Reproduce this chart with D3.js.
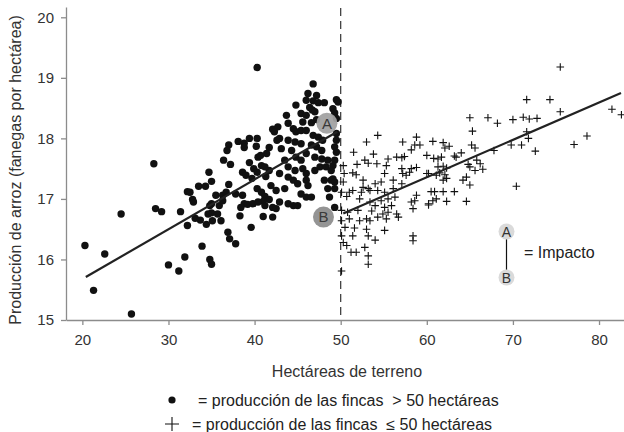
<!DOCTYPE html>
<html>
<head>
<meta charset="utf-8">
<script src="https://cdn.jsdelivr.net/npm/d3@7"></script>
<style>
  body { margin: 0; background: #fff; }
  svg { display: block; font-family: "Liberation Sans", Arial, sans-serif; }
</style>
</head>
<body>
<div id="chart"></div>
<script>
// fincas > 50 hectáreas (puntos)
const bigFarms = [
  [20.3,16.23],[21.3,15.49],[22.6,16.09],[24.5,16.75],[25.7,15.10],[28.3,17.58],[28.5,16.84],[29.2,16.79],
  [30.0,15.91],[31.2,15.81],[31.4,16.79],[31.9,16.04],[32.2,17.12],[32.5,17.11],[32.2,16.56],[32.8,16.99],
  [32.9,16.95],[33.5,17.21],[34.3,17.21],[34.7,17.44],[35.0,17.29],[33.1,16.68],[33.7,16.65],[34.4,16.58],
  [33.9,16.22],[34.8,16.0],[35.0,15.92],[34.8,16.89],[35.0,16.77],[35.1,16.64],
  [40.3,19.17],[42.1,18.15],[42.6,17.97],[38.1,17.95],[38.8,17.92],[39.4,18.0],[40.3,18.0],[37.0,17.89],
  [36.8,17.80],[38.8,17.85],[41.7,17.85],[40.2,17.87],[40.4,17.69],[40.7,17.72],[41.4,17.75],[36.4,17.64],
  [37.2,17.57],[39.4,17.6],[39.9,17.5],[40.3,17.44],[40.8,17.55],[41.3,17.37],[41.7,17.47],[39.7,17.34],
  [38.6,17.44],[39.0,17.39],[41.2,17.53],[37.0,17.24],[35.5,17.06],[36.3,17.06],[36.7,17.11],[37.8,17.08],
  [38.6,17.06],[40.3,17.17],[40.8,17.11],[41.2,17.04],[41.7,16.99],[41.0,16.96],[41.9,17.22],[35.0,16.92],
  [35.9,16.89],[36.3,16.97],[38.8,16.92],[39.2,16.91],[39.8,16.92],[40.4,16.95],[38.4,16.86],[41.2,16.89],
  [42.1,16.86],[34.6,16.75],[35.7,16.75],[36.1,16.64],[38.3,16.72],[41.0,16.71],[42.1,16.70],[39.6,16.53],
  [36.9,16.45],[37.1,16.34],[37.8,16.26],
  [46.8,18.90],[46.2,18.74],[47.2,18.71],[46.0,18.63],[46.8,18.62],[47.4,18.59],[49.5,18.64],[49.7,18.60],
  [48.1,18.59],[44.8,18.55],[46.4,18.51],[45.4,18.41],[46.0,18.38],[46.7,18.47],[47.0,18.44],[49.1,18.49],
  [49.3,18.42],[43.7,18.38],[43.9,18.25],[45.6,18.27],[46.6,18.26],[47.2,18.31],[49.5,18.33],[42.7,18.19],
  [42.3,18.11],[44.5,18.16],[44.8,18.11],[45.4,18.13],[46.0,18.13],[46.8,18.05],[47.4,18.02],[47.9,17.97],
  [49.5,18.08],[49.5,17.97],[42.9,18.0],[43.9,17.97],[44.7,17.94],[45.4,17.91],[43.1,17.83],[44.3,17.80],
  [46.6,17.89],[47.2,17.86],[47.8,17.80],[49.3,17.86],[49.5,17.77],[46.0,17.75],[44.8,17.69],[45.4,17.64],
  [47.0,17.69],[47.8,17.66],[48.5,17.64],[49.3,17.64],[49.1,17.55],[43.5,17.64],[43.9,17.53],[44.7,17.47],
  [45.6,17.50],[46.0,17.42],[47.0,17.47],[47.6,17.53],[48.3,17.53],[48.9,17.47],[42.9,17.42],[43.9,17.36],
  [44.5,17.31],[45.0,17.25],[46.0,17.31],[46.2,17.22],[48.1,17.31],[48.9,17.31],[48.5,17.17],[49.3,17.28],
  [42.5,17.14],[43.5,17.17],[45.4,17.08],[46.0,17.03],[46.6,17.03],[42.9,16.95],[43.9,16.92],[44.5,16.89],
  [45.0,16.89],[48.7,17.03],[49.3,16.86],[42.5,16.84],[49.1,17.33],[49.3,17.17]
]

// fincas <= 50 hectáreas (cruces)
const smallFarms = [
  [54.3,18.05],[53.0,17.94],[57.2,17.94],[58.8,18.02],[58.6,17.89],[59.2,17.89],[58.2,17.81],[60.0,17.72],
  [51.5,17.77],[53.8,17.74],[52.8,17.64],[53.2,17.59],[54.2,17.58],[55.5,17.66],[55.3,17.55],[56.5,17.69],
  [57.1,17.68],[57.4,17.70],[50.3,17.55],[51.9,17.57],[57.1,17.50],[58.2,17.50],[58.8,17.52],[57.2,17.42],
  [57.6,17.39],[58.0,17.44],[50.4,17.42],[51.4,17.43],[51.8,17.40],[55.1,17.42],[60.0,17.42],[50.3,17.28],
  [52.6,17.31],[54.0,17.25],[54.7,17.28],[56.1,17.31],[57.1,17.25],[50.1,17.11],[51.0,17.11],[51.4,17.14],
  [52.4,17.11],[52.6,17.19],[53.2,17.17],[53.4,17.14],[54.3,17.14],[55.1,17.11],[56.1,17.17],[50.7,17.04],
  [52.2,17.0],[53.4,16.95],[54.7,16.97],[55.5,17.0],[56.3,17.03],[58.2,16.95],[58.8,17.06],[58.6,16.97],
  [54.0,16.89],[55.1,16.86],[55.9,16.89],[50.1,16.81],[50.8,16.78],[52.0,16.81],[53.6,16.80],[58.4,16.84],
  [60.2,16.92],[54.9,16.75],[55.5,16.78],[56.5,16.75],[56.7,16.70],[51.0,16.67],[52.2,16.64],[53.0,16.67],
  [53.4,16.64],[50.1,16.64],[50.5,16.53],[54.3,16.70],[55.3,16.67],[51.6,16.52],[53.0,16.50],[55.1,16.48],
  [50.1,16.39],[51.4,16.39],[53.2,16.39],[54.0,16.32],[58.4,16.39],[58.4,16.31],[50.3,16.28],[50.7,16.23],
  [51.2,16.12],[51.8,16.12],[52.8,16.20],[53.2,16.06],[53.2,15.92],[50.1,15.81],
  [65.0,18.34],[67.1,18.34],[68.2,18.25],[70.0,18.31],[71.2,18.35],[65.3,18.12],[60.7,17.95],[61.9,17.93],
  [62.6,17.87],[62.1,17.84],[65.2,17.89],[65.6,17.84],[69.8,17.89],[71.0,17.89],[67.8,17.80],[60.8,17.67],
  [61.3,17.66],[61.7,17.69],[63.2,17.71],[63.4,17.69],[64.0,17.76],[64.8,17.57],[65.0,17.53],[65.8,17.64],
  [66.2,17.58],[66.5,17.49],[65.6,17.47],[61.3,17.53],[61.9,17.54],[62.3,17.51],[60.2,17.42],[61.1,17.39],
  [61.5,17.43],[62.1,17.40],[62.3,17.34],[61.9,17.31],[64.6,17.36],[64.2,17.31],[65.0,17.23],[70.4,17.21],
  [60.5,17.12],[60.9,17.12],[61.9,17.12],[63.2,17.12],[61.1,17.0],[60.7,16.97],[62.3,16.96],[64.6,16.96],
  [60.2,16.90],
  [75.5,19.18],[71.6,18.64],[74.3,18.64],[75.5,18.44],[71.9,18.32],[72.8,18.33],[81.5,18.48],[82.6,18.39],
  [71.6,18.11],[71.8,18.0],[72.6,17.79],[77.1,17.90],[78.6,18.04]
]

const fitBig = [[20.4, 15.71], [49.6, 18.11]]
const fitSmall = [[50.3, 16.76], [82.55, 18.75]]
const impactPoints = [
  { label: 'A', x: 48.4, y: 18.25 },
  { label: 'B', x: 48.0, y: 16.70 }
]
const xTicks = [20, 30, 40, 50, 60, 70, 80]
const yTicks = [15, 16, 17, 18, 19, 20]
const cutoff = 50

let width = 624,
  height = 432

let svg = d3.select('#chart').append('svg')
  .attr('width', width)
  .attr('height', height)

let x = d3.scaleLinear()
  .domain([18.1, 82.9])
  .range([66, 624])

let y = d3.scaleLinear()
  .domain([15, 20.17])
  .range([320, 7])

let axisColor = '#8c8c8c',
  textColor = '#333'

// ejes
svg.append('g')
  .attr('transform', 'translate(0,320)')
  .call(d3.axisBottom(x).tickValues(xTicks).tickFormat(d3.format('d'))
    .tickSize(5).tickPadding(9).tickSizeOuter(0))

svg.append('g')
  .attr('transform', 'translate(66,0)')
  .call(d3.axisLeft(y).tickValues(yTicks).tickFormat(d3.format('d'))
    .tickSize(5).tickPadding(7).tickSizeOuter(0))

svg.selectAll('.domain, .tick line')
  .attr('stroke', axisColor)
  .attr('stroke-width', 1.3)
svg.selectAll('.tick text')
  .attr('fill', textColor)
  .style('font-size', '15px')
  .style('font-family', '"Liberation Sans", Arial, sans-serif')

svg.append('text')
  .attr('transform', 'translate(21,170) rotate(-90)')
  .attr('text-anchor', 'middle')
  .attr('fill', textColor)
  .style('font-size', '16px')
  .text('Producción de arroz (fanegas por hectárea)')

svg.append('text')
  .attr('x', 347)
  .attr('y', 377)
  .attr('text-anchor', 'middle')
  .attr('fill', textColor)
  .style('font-size', '16px')
  .text('Hectáreas de terreno')

// línea de corte
svg.append('line')
  .attr('x1', x(cutoff))
  .attr('x2', x(cutoff))
  .attr('y1', 8)
  .attr('y2', 320)
  .attr('stroke', '#333')
  .attr('stroke-width', 1.2)
  .attr('stroke-dasharray', '8,5')

// puntos
svg.append('g').selectAll('circle')
  .data(bigFarms)
  .enter().append('circle')
  .attr('cx', d => x(d[0]))
  .attr('cy', d => y(d[1]))
  .attr('r', 3.7)
  .attr('fill', '#111')

let crossPath = (cx, cy, s) => 'M' + (cx - s) + ',' + cy + 'H' + (cx + s) + 'M' + cx + ',' + (cy - s) + 'V' + (cy + s)

svg.append('g').selectAll('path')
  .data(smallFarms)
  .enter().append('path')
  .attr('d', d => crossPath(x(d[0]), y(d[1]), 3.8))
  .attr('stroke', '#111')
  .attr('stroke-width', 1.1)
  .attr('fill', 'none')

// rectas de regresión
let line = d3.line()
  .x(d => x(d[0]))
  .y(d => y(d[1]))

;[fitBig, fitSmall].forEach(function (fit) {
  svg.append('path')
    .datum(fit)
    .attr('d', line)
    .attr('stroke', '#222')
    .attr('stroke-width', 2.2)
    .attr('fill', 'none')
})

// marcadores A y B
let marks = svg.append('g').selectAll('g')
  .data(impactPoints)
  .enter().append('g')
  .attr('transform', d => 'translate(' + x(d.x) + ',' + y(d.y) + ')')

marks.append('circle')
  .attr('r', 10.5)
  .attr('fill', d => d.label === 'A' ? '#a2a2a2' : '#8e8e8e')
  .attr('opacity', 0.95)

marks.append('text')
  .attr('text-anchor', 'middle')
  .attr('dy', '0.36em')
  .attr('fill', '#3a3a3a')
  .style('font-size', '15px')
  .text(d => d.label)

// leyenda de impacto
let imp = svg.append('g')
imp.append('line')
  .attr('x1', 506.5).attr('x2', 506.5)
  .attr('y1', 238).attr('y2', 271)
  .attr('stroke', '#111')
  .attr('stroke-width', 1.2)

let impKeys = imp.selectAll('g')
  .data(['A', 'B'])
  .enter().append('g')
  .attr('transform', (d, i) => 'translate(506.5,' + (231.5 + i * 46) + ')')

impKeys.append('circle')
  .attr('r', 8)
  .attr('fill', '#dadada')

impKeys.append('text')
  .attr('text-anchor', 'middle')
  .attr('dy', '0.36em')
  .attr('fill', '#333')
  .style('font-size', '14px')
  .text(d => d)

imp.append('text')
  .attr('x', 524)
  .attr('y', 258)
  .attr('fill', '#222')
  .style('font-size', '16px')
  .text('= Impacto')

// leyenda inferior
svg.append('circle')
  .attr('cx', 172)
  .attr('cy', 400)
  .attr('r', 3.6)
  .attr('fill', '#111')

svg.append('text')
  .attr('x', 198)
  .attr('y', 406)
  .attr('fill', '#222')
  .style('font-size', '16px')
  .style('white-space', 'pre')
  .text('= producción de las fincas  > 50 hectáreas')

svg.append('path')
  .attr('d', crossPath(172, 424, 7))
  .attr('stroke', '#111')
  .attr('stroke-width', 1.1)

svg.append('text')
  .attr('x', 192)
  .attr('y', 430)
  .attr('fill', '#222')
  .style('font-size', '16px')
  .style('white-space', 'pre')
  .text('= producción de las fincas  ≤ 50 hectáreas')
</script>
</body>
</html>
